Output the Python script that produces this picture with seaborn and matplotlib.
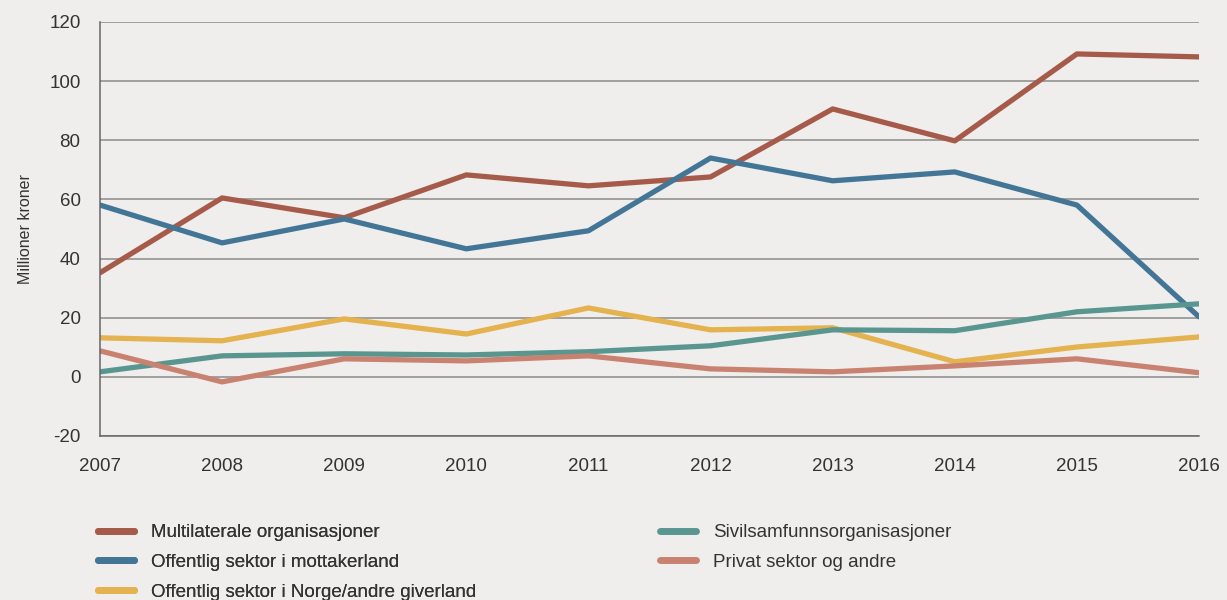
import numpy as np
import pandas as pd
import matplotlib
matplotlib.use("Agg")
import matplotlib.pyplot as plt
import seaborn as sns
from matplotlib import font_manager

years = [2007, 2008, 2009, 2010, 2011, 2012, 2013, 2014, 2015, 2016]
multilaterale = [35.2, 60.5, 53.8, 68.3, 64.6, 67.6, 90.6, 79.8, 109.2, 108.2]
offentlig_mottaker = [58.1, 45.3, 53.4, 43.3, 49.4, 74.0, 66.3, 69.3, 58.1, 20.3]
offentlig_norge = [13.2, 12.2, 19.6, 14.5, 23.3, 15.9, 16.6, 5.1, 10.1, 13.5]
sivilsamfunn = [1.7, 7.1, 7.8, 7.4, 8.5, 10.5, 15.9, 15.6, 22.0, 24.7]
privat = [8.8, -1.7, 6.1, 5.4, 7.1, 2.7, 1.7, 3.7, 6.1, 1.4]

series_names = [
    "Multilaterale organisasjoner",
    "Offentlig sektor i mottakerland",
    "Offentlig sektor i Norge/andre giverland",
    "Sivilsamfunnsorganisasjoner",
    "Privat sektor og andre",
]
colors = ["#a65b4a", "#437696", "#e4b24f", "#5a9690", "#c98270"]
yticks = [-20, 0, 20, 40, 60, 80, 100, 120]

values = [multilaterale, offentlig_mottaker, offentlig_norge, sivilsamfunn, privat]
df = pd.DataFrame(
    [(y, v, n) for n, vals in zip(series_names, values) for y, v in zip(years, vals)],
    columns=["År", "Verdi", "Serie"],
)

sns.set_theme(style="white")
bg = "#efeeec"
plt.rcParams["font.family"] = ["Liberation Sans", "DejaVu Sans"]
plt.rcParams["axes.unicode_minus"] = False

fig = plt.figure(figsize=(12.27, 6.0), dpi=100, facecolor=bg)
ax = fig.add_axes([100 / 1227, 1 - 436 / 600, (1199 - 100) / 1227, (436 - 22) / 600])
ax.set_facecolor(bg)

sns.lineplot(data=df, x="År", y="Verdi", hue="Serie", hue_order=series_names,
             palette=colors, linewidth=3.8, ax=ax, legend=False,
             solid_capstyle="round")

ax.set_xlim(2007, 2016)
ax.set_ylim(-20, 120)
ax.set_yticks(yticks)
ax.set_yticklabels([str(t) for t in yticks])
ax.set_xticks(years)
ax.set_xticklabels([str(y) for y in years])
ax.grid(axis="y", color="#8a8a8a", linewidth=1.1)
ax.set_axisbelow(True)
for s in ["top", "right"]:
    ax.spines[s].set_visible(False)
ax.spines["left"].set_color("#666666")
ax.spines["bottom"].set_color("#666666")
ax.spines["left"].set_linewidth(1.1)
ax.spines["bottom"].set_linewidth(1.1)
ax.tick_params(axis="x", direction="out", length=10, width=1.1, color="#666666",
               labelsize=13.5, labelcolor="#333333", pad=6)
ax.tick_params(axis="y", length=0, labelsize=13.5, labelcolor="#333333", pad=14)
ax.set_xlabel("")
ax.set_ylabel("Millioner kroner", fontsize=11.5, color="#333333", labelpad=12)

# legend
avail = {f.name for f in font_manager.fontManager.ttflist}
legfam = ["Liberation Sans Narrow", "DejaVu Sans"] if "Liberation Sans Narrow" in avail else ["Liberation Sans", "DejaVu Sans"]
handles = [plt.Line2D([], [], color=c, linewidth=5, solid_capstyle="round") for c in colors]
common = dict(loc="upper left", frameon=False, handlelength=1.9, handletextpad=0.95,
              labelspacing=0.68, prop={"family": legfam, "size": 13.5},
              labelcolor="#333333", borderaxespad=0, borderpad=0)
leg1 = fig.legend(handles[:3], series_names[:3],
                  bbox_to_anchor=(98 / 1227, 1 - 524 / 600), **common)
leg2 = fig.legend(handles[3:], series_names[3:],
                  bbox_to_anchor=(660 / 1227, 1 - 524 / 600), **common)
fig.add_artist(leg1)

fig.savefig("out.png", dpi=100, facecolor=bg)
